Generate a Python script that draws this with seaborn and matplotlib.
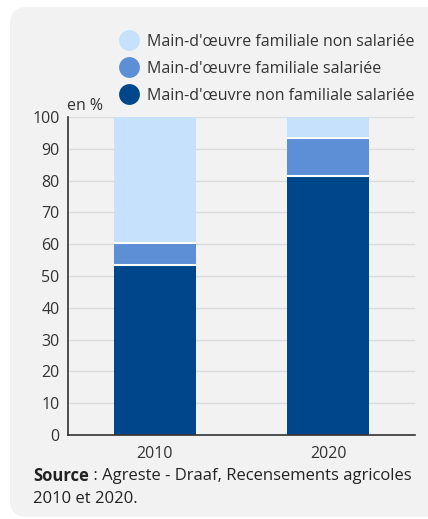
import matplotlib
matplotlib.use("Agg")
import matplotlib.pyplot as plt
import seaborn as sns
import pandas as pd
import numpy as np
from matplotlib.patches import FancyBboxPatch
from matplotlib.lines import Line2D

years = ["2010", "2020"]
non_fam_sal = [53.6, 81.4]
fam_sal = [6.8, 11.9]
fam_non_sal = [39.6, 6.7]
series_labels = ["Main-d'œuvre familiale non salariée",
                 "Main-d'œuvre familiale salariée",
                 "Main-d'œuvre non familiale salariée"]
colors = ["#c6e1fc", "#5d8fd6", "#00468a"]
yticks = [0, 10, 20, 30, 40, 50, 60, 70, 80, 90, 100]

sns.set_theme(style="white")
plt.rcParams['font.family'] = ['Open Sans', 'DejaVu Sans']

W, H = 428, 519
FS = 11.5
FS_SRC = 12
fig = plt.figure(figsize=(W / 100, H / 100), dpi=100)
fig.patch.set_facecolor("white")
panel = FancyBboxPatch((10 / W, 2 / H), (W + 20 - 10) / W, (H - 9) / H,
                       boxstyle="round,pad=0,rounding_size=0.04",
                       transform=fig.transFigure, facecolor="#f2f2f2",
                       edgecolor="none", mutation_aspect=W / H, zorder=-10)
fig.patches.append(panel)

ax = fig.add_axes([68 / W, (H - 435) / H, (415 - 68) / W, (435 - 117) / H])
ax.set_zorder(1)
ax.set_facecolor("#f2f2f2")

df = pd.DataFrame({
    "year": years,
    "l1": np.array(non_fam_sal),
    "l2": np.array(non_fam_sal) + np.array(fam_sal),
    "l3": np.array(non_fam_sal) + np.array(fam_sal) + np.array(fam_non_sal),
})
for col, c in [("l3", colors[0]), ("l2", colors[1]), ("l1", colors[2])]:
    sns.barplot(data=df, x="year", y=col, color=c, width=0.47, ax=ax,
                linewidth=0, saturation=1, zorder=3)

# white separators on top of inner segments
for p in ax.patches:
    top = p.get_y() + p.get_height()
    if top < 99.9:
        ax.plot([p.get_x(), p.get_x() + p.get_width()], [top, top],
                color="white", linewidth=1.5, zorder=4, solid_capstyle="butt")

ax.set_ylim(0, 100)
ax.set_xlim(-0.5, 1.5)
ax.set_yticks(yticks)
ax.set_yticklabels([str(t) for t in yticks])
ax.set_xlabel("")
ax.set_ylabel("")
ax.yaxis.grid(True, color="#dcdcdc", linewidth=1, zorder=0)
ax.set_axisbelow(True)
for s in ["top", "right"]:
    ax.spines[s].set_visible(False)
for s in ["left", "bottom"]:
    ax.spines[s].set_color("#333333")
    ax.spines[s].set_linewidth(1.2)
    ax.spines[s].set_zorder(5)
ax.tick_params(axis="both", length=0, labelsize=FS, colors="#333333", pad=6)
ax.tick_params(axis="x", pad=8)

fig.text(67 / W, 1 - 106 / H, "en %", fontsize=FS, color="#333333",
         ha="left", va="center")

handles = [Line2D([], [], marker="o", linestyle="none", markersize=15,
                  markerfacecolor=c, markeredgecolor="none") for c in colors]
leg = fig.legend(handles, series_labels, loc="upper right",
                 bbox_to_anchor=(422 / W, 1 - 26 / H), frameon=False,
                 fontsize=FS, handletextpad=0.5, labelspacing=0.68,
                 handlelength=1.2, borderpad=0)
for t in leg.get_texts():
    t.set_color("#333333")

fig.text(33 / W, 1 - 476 / H, "Source", fontsize=FS_SRC, fontweight="bold",
         color="#222222", ha="left", va="center")
fig.text(89 / W, 1 - 476 / H, " : Agreste - Draaf, Recensements agricoles",
         fontsize=FS_SRC, color="#222222", ha="left", va="center")
fig.text(33 / W, 1 - 499 / H, "2010 et 2020.", fontsize=FS_SRC,
         color="#222222", ha="left", va="center")

fig.savefig("out.png", dpi=100)
